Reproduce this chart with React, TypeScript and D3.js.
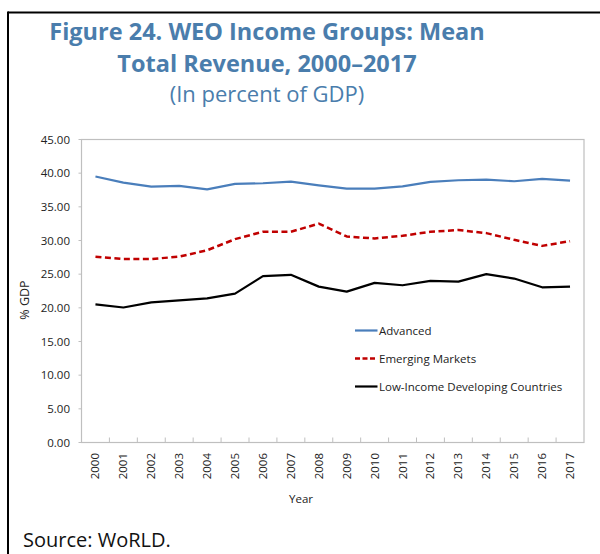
import React from "react";
import * as d3 from "d3";

const years = ["2000","2001","2002","2003","2004","2005","2006","2007","2008","2009","2010","2011","2012","2013","2014","2015","2016","2017"];
const advanced = [39.5,38.6,38.0,38.1,37.6,38.4,38.5,38.75,38.2,37.7,37.7,38.05,38.7,38.95,39.05,38.8,39.15,38.9];
const emerging = [27.6,27.25,27.25,27.6,28.55,30.2,31.3,31.3,32.5,30.6,30.3,30.7,31.3,31.55,31.1,30.1,29.2,29.9];
const lidc = [20.5,20.05,20.8,21.1,21.4,22.1,24.7,24.9,23.15,22.4,23.7,23.35,24.0,23.9,25.0,24.35,23.05,23.15];
const yTicks = [0,5,10,15,20,25,30,35,40,45];
const seriesNames = ["Advanced","Emerging Markets","Low-Income Developing Countries"];

const W = 600, H = 554;
const plot = { left: 81.5, right: 584, top: 139.5, bottom: 442.5 };
const FONT = "'Open Sans', 'Noto Sans', sans-serif";
const BLUE = "#4a7ebb";
const TITLE = "#4a7dac";

export default function App() {
  const x = d3.scaleBand<string>().domain(years).range([plot.left, plot.right]);
  const y = d3.scaleLinear().domain([0, 45]).range([plot.bottom, plot.top]);
  const line = d3.line<number>().x((_, i) => (x(years[i]) as number) + x.bandwidth() / 2).y(d => y(d));

  const series = [
    { name: seriesNames[0], data: advanced, color: BLUE, width: 2.2, dash: undefined as string | undefined },
    { name: seriesNames[1], data: emerging, color: "#c00000", width: 2.5, dash: "6,3.5" },
    { name: seriesNames[2], data: lidc, color: "#000000", width: 2.2, dash: undefined },
  ];
  const legendY = [330.5, 358.5, 386.5];

  return (
    <svg width={W} height={H} style={{ position: "absolute", left: 0, top: 0, background: "#fff" }}>
      <rect x={0} y={0} width={W} height={H} fill="#fff" />
      {/* outer frame */}
      <line x1={8} y1={12.5} x2={W} y2={12.5} stroke="#000" strokeWidth={2} />
      <line x1={8} y1={11.5} x2={8} y2={H} stroke="#000" strokeWidth={2} />

      {/* title */}
      <g fontFamily={FONT} fill={TITLE} textAnchor="middle">
        <text x={267} y={40} fontSize={23.5} fontWeight={700}>Figure 24. WEO Income Groups: Mean</text>
        <text x={267} y={71.5} fontSize={23.5} fontWeight={700}>Total Revenue, 2000–2017</text>
        <text x={267} y={101.5} fontSize={22}>(In percent of GDP)</text>
      </g>

      {/* plot frame */}
      <rect x={plot.left} y={plot.top} width={plot.right - plot.left} height={plot.bottom - plot.top} fill="none" stroke="#bfbfbf" strokeWidth={1.2} />

      {/* y ticks */}
      <g fontFamily={FONT} fontSize={11.5} fill="#222" textAnchor="end">
        {yTicks.map(t => (
          <g key={t}>
            <line x1={plot.left - 3} x2={plot.left} y1={y(t)} y2={y(t)} stroke="#bfbfbf" />
            <text x={70} y={y(t)} dy="0.35em">{t.toFixed(2)}</text>
          </g>
        ))}
      </g>

      {/* x ticks */}
      {years.map((yr, i) => (
        i > 0 ? <line key={"t" + yr} x1={x(yr) as number} x2={x(yr) as number} y1={plot.bottom} y2={plot.bottom - 5} stroke="#bfbfbf" /> : null
      ))}
      <g fontFamily={FONT} fontSize={11.5} fill="#222">
        {years.map(yr => {
          const cx = (x(yr) as number) + x.bandwidth() / 2;
          return (
            <text key={yr} transform={`translate(${cx},453) rotate(-90)`} textAnchor="end" dy="0.35em">{yr}</text>
          );
        })}
      </g>

      {/* axis titles */}
      <text x={301} y={499} dy="0.35em" textAnchor="middle" fontFamily={FONT} fontSize={11.5} fill="#222">Year</text>
      <text transform="translate(25,300) rotate(-90)" textAnchor="middle" dy="0.35em" fontFamily={FONT} fontSize={12.5} fill="#222">% GDP</text>

      {/* lines */}
      {series.map(s => (
        <path key={s.name} d={line(s.data) || ""} fill="none" stroke={s.color} strokeWidth={s.width} strokeDasharray={s.dash} strokeLinejoin="round" />
      ))}

      {/* legend */}
      {series.map((s, i) => (
        <g key={"lg" + s.name}>
          <line x1={355} x2={377.5} y1={legendY[i]} y2={legendY[i]} stroke={s.color} strokeWidth={s.width} strokeDasharray={s.dash ? "5,2.5" : undefined} />
          <text x={379} y={legendY[i]} dy="0.35em" fontFamily={FONT} fontSize={11.5} fill="#222">{s.name}</text>
        </g>
      ))}

      {/* source */}
      <text x={23} y={547} fontFamily={FONT} fontSize={20} fill="#111">Source: WoRLD.</text>
    </svg>
  );
}
